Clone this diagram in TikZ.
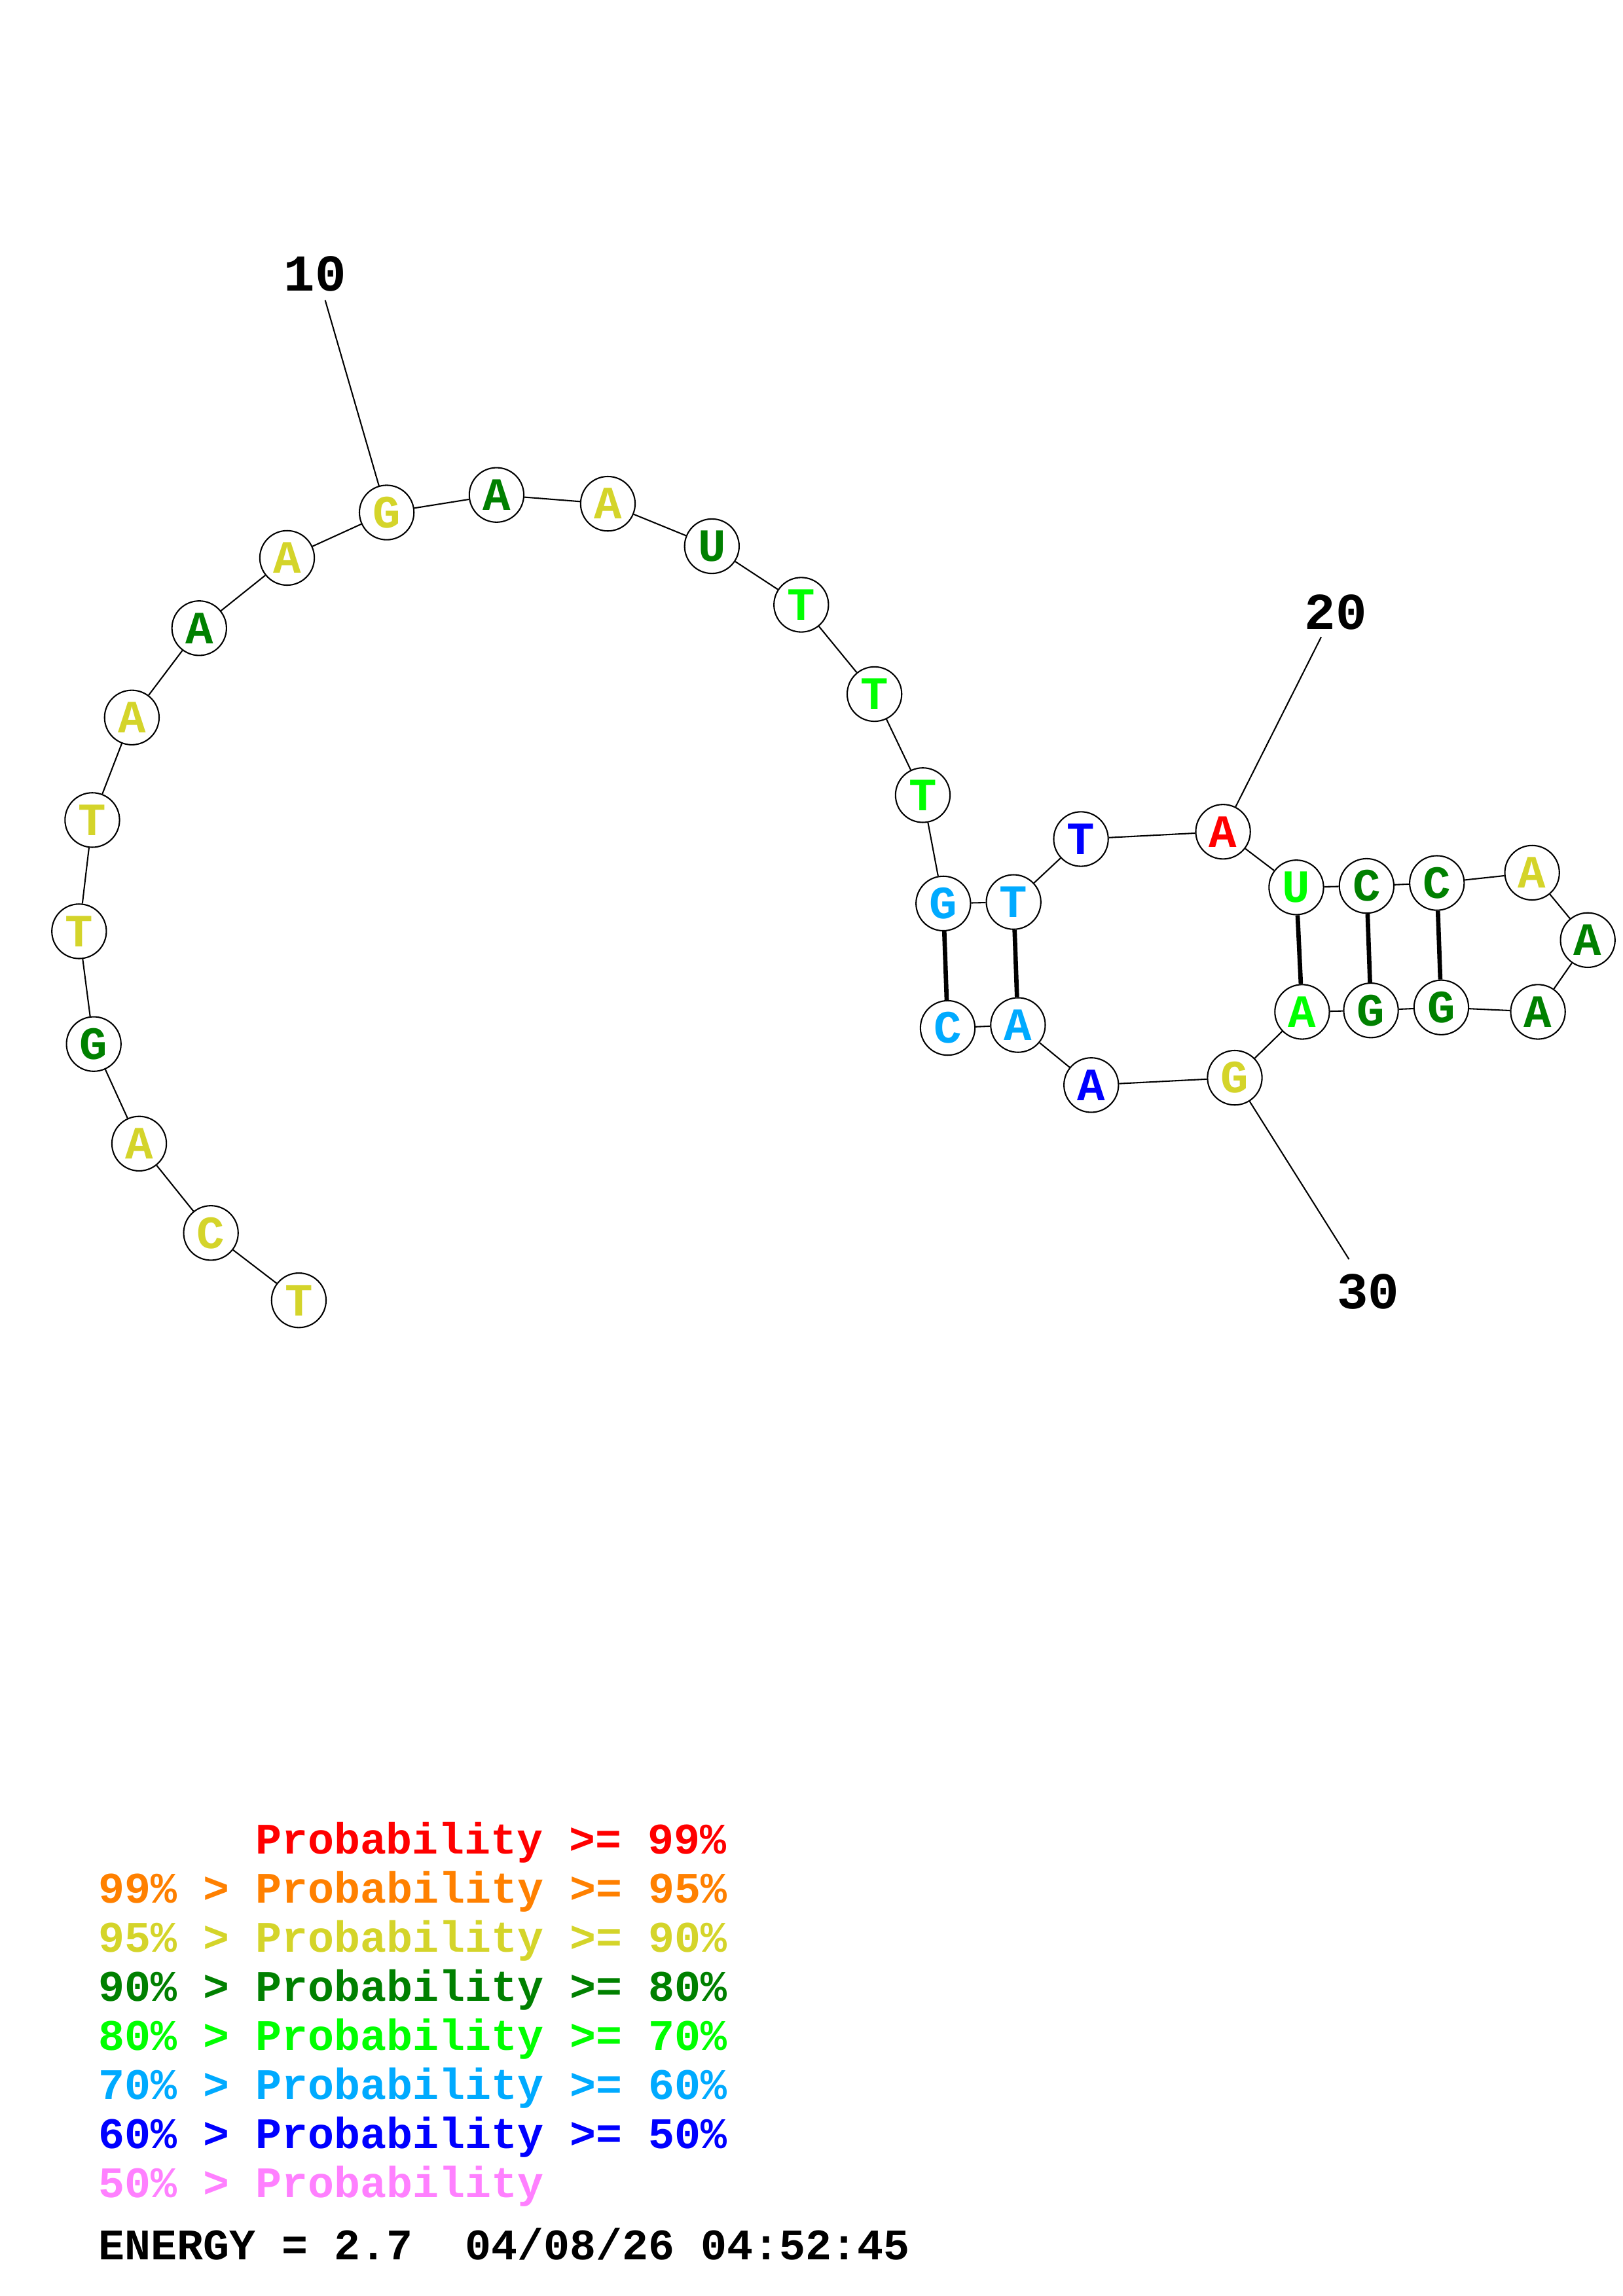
\documentclass[tikz,border=0pt]{standalone}
\usepackage{fontspec}
\setmonofont{Liberation Mono}
\usetikzlibrary{positioning}

\definecolor{pRed}{RGB}{255,0,0}
\definecolor{pOrange}{RGB}{255,128,0}
\definecolor{pYellow}{RGB}{212,212,42}
\definecolor{pDarkGreen}{RGB}{0,128,0}
\definecolor{pGreen}{RGB}{0,255,0}
\definecolor{pCyan}{RGB}{0,170,255}
\definecolor{pBlue}{RGB}{0,0,255}
\definecolor{pPink}{RGB}{255,128,255}

\begin{document}
\begin{tikzpicture}[
  x=0.5373pt, y=-0.5373pt,
  nt/.style={draw, circle, fill=white, line width=0.5pt, minimum size=20pt, inner sep=0pt, font=\fontsize{17}{17}\selectfont\ttfamily\bfseries},
  bb/.style={line width=0.5pt},
  pair/.style={line width=1.6pt},
  numlab/.style={font=\fontsize{19}{19}\selectfont\ttfamily\bfseries},
  legend/.style={anchor=base west, inner sep=0pt, font=\fontsize{16}{16}\selectfont\ttfamily\bfseries}
]
  \useasboundingbox (0,0) rectangle (1108,1568);

  % position labels
  \coordinate (t10) at (222,205);
  \coordinate (t20) at (902,435);
  \coordinate (t30) at (921,860);
  \node[numlab] (l10) at (215,187) {10};
  \node[numlab] (l20) at (912,418) {20};
  \node[numlab] (l30) at (934,882) {30};

  % bases
  \node[nt, text=pYellow]    (n1)  at (204,888) {T};
  \node[nt, text=pYellow]    (n2)  at (144,842) {C};
  \node[nt, text=pYellow]    (n3)  at (95,781)  {A};
  \node[nt, text=pDarkGreen] (n4)  at (64,713)  {G};
  \node[nt, text=pYellow]    (n5)  at (54,636)  {T};
  \node[nt, text=pYellow]    (n6)  at (63,560)  {T};
  \node[nt, text=pYellow]    (n7)  at (90,490)  {A};
  \node[nt, text=pDarkGreen] (n8)  at (136,429) {A};
  \node[nt, text=pYellow]    (n9)  at (196,381) {A};
  \node[nt, text=pYellow]    (n10) at (264,350) {G};
  \node[nt, text=pDarkGreen] (n11) at (339,338) {A};
  \node[nt, text=pYellow]    (n12) at (415,344) {A};
  \node[nt, text=pDarkGreen] (n13) at (486,373) {U};
  \node[nt, text=pGreen]     (n14) at (547,413) {T};
  \node[nt, text=pGreen]     (n15) at (597,474) {T};
  \node[nt, text=pGreen]     (n16) at (630,543) {T};
  \node[nt, text=pCyan]      (n17) at (644,617) {G};
  \node[nt, text=pCyan]      (n18) at (692,616) {T};
  \node[nt, text=pBlue]      (n19) at (738,573) {T};
  \node[nt, text=pRed]       (n20) at (835,568) {A};
  \node[nt, text=pGreen]     (n21) at (885,606) {U};
  \node[nt, text=pDarkGreen] (n22) at (933,605) {C};
  \node[nt, text=pDarkGreen] (n23) at (981,603) {C};
  \node[nt, text=pYellow]    (n24) at (1046,596) {A};
  \node[nt, text=pDarkGreen] (n25) at (1084,642) {A};
  \node[nt, text=pDarkGreen] (n26) at (1050,691) {A};
  \node[nt, text=pDarkGreen] (n27) at (984,688) {G};
  \node[nt, text=pDarkGreen] (n28) at (936,690) {G};
  \node[nt, text=pGreen]     (n29) at (889,691) {A};
  \node[nt, text=pYellow]    (n30) at (843,736) {G};
  \node[nt, text=pBlue]      (n31) at (745,741) {A};
  \node[nt, text=pCyan]      (n32) at (695,700) {A};
  \node[nt, text=pCyan]      (n33) at (647,702) {C};

  % backbone
  \draw[bb] (n1) -- (n2) -- (n3) -- (n4) -- (n5) -- (n6) -- (n7) -- (n8) -- (n9) -- (n10) -- (n11)
    -- (n12) -- (n13) -- (n14) -- (n15) -- (n16) -- (n17) -- (n18) -- (n19) -- (n20) -- (n21) -- (n22)
    -- (n23) -- (n24) -- (n25) -- (n26) -- (n27) -- (n28) -- (n29) -- (n30) -- (n31) -- (n32) -- (n33);
  \draw[bb] (n10) -- (t10);
  \draw[bb] (n20) -- (t20);
  \draw[bb] (n30) -- (t30);

  % base pairs
  \draw[pair] (n17) -- (n33);
  \draw[pair] (n18) -- (n32);
  \draw[pair] (n21) -- (n29);
  \draw[pair] (n22) -- (n28);
  \draw[pair] (n23) -- (n27);

  % legend
  \node[legend, text=pRed]       (k1) at (174,1266)  {Probability >= 99\%};
  \node[legend, text=pOrange]    (k2) at (67,1299.5) {99\% > Probability >= 95\%};
  \node[legend, text=pYellow]    (k3) at (67,1333)   {95\% > Probability >= 90\%};
  \node[legend, text=pDarkGreen] (k4) at (67,1366.5) {90\% > Probability >= 80\%};
  \node[legend, text=pGreen]     (k5) at (67,1400)   {80\% > Probability >= 70\%};
  \node[legend, text=pCyan]      (k6) at (67,1433.5) {70\% > Probability >= 60\%};
  \node[legend, text=pBlue]      (k7) at (67,1467)   {60\% > Probability >= 50\%};
  \node[legend, text=pPink]      (k8) at (67,1500.5) {50\% > Probability};
  \node[legend]                  (en) at (67,1543)   {ENERGY = 2.7~~04/08/26 04:52:45};
\end{tikzpicture}
\end{document}
